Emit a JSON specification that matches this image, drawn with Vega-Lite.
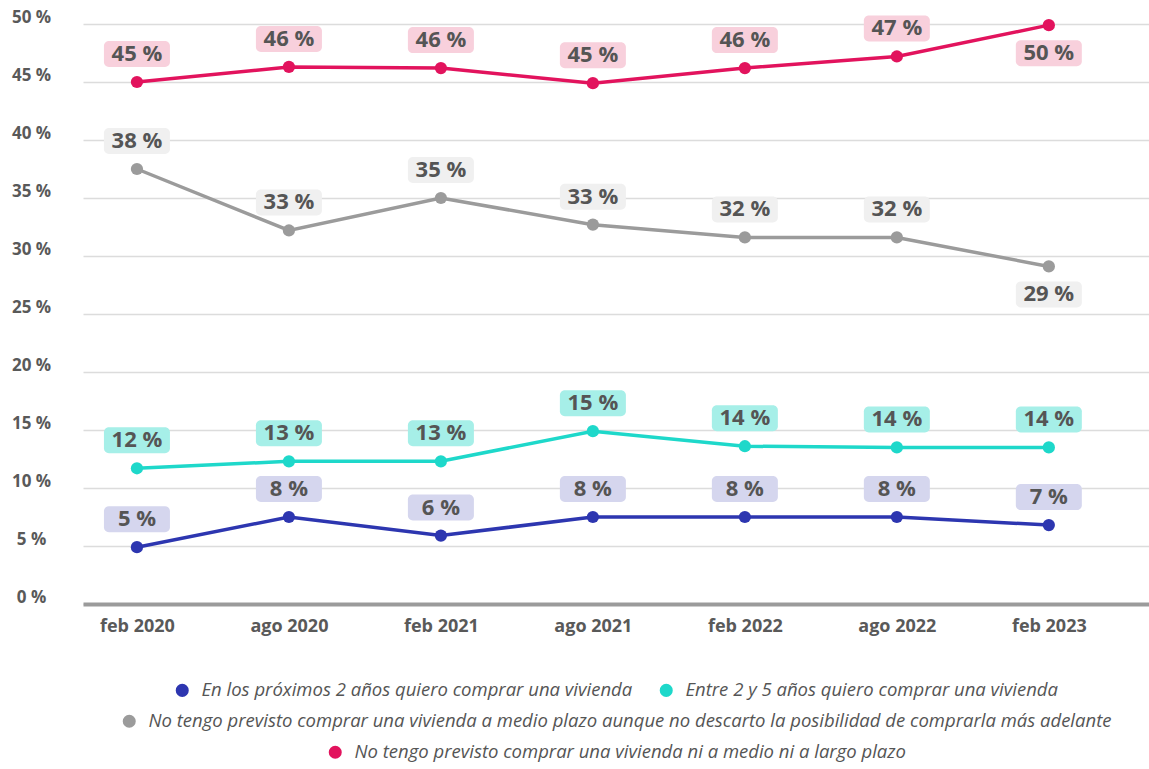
{
  "$schema": "https://vega.github.io/schema/vega-lite/v6.json",
  "width": 1066,
  "height": 580,
  "padding": {"left": 11, "top": 8, "right": 0, "bottom": 0},
  "background": "white",
  "config": {
    "view": {"stroke": null},
    "font": "Open Sans",
    "legend": {
      "layout": {"bottom": {"anchor": "middle", "direction": "vertical", "center": true, "margin": 12}}
    }
  },
  "data": {
    "values": [
      {"fecha": "feb 2020", "serie": "En los próximos 2 años quiero comprar una vivienda", "valor": 4.9, "texto": "5 %"},
      {"fecha": "ago 2020", "serie": "En los próximos 2 años quiero comprar una vivienda", "valor": 7.5, "texto": "8 %"},
      {"fecha": "feb 2021", "serie": "En los próximos 2 años quiero comprar una vivienda", "valor": 5.9, "texto": "6 %"},
      {"fecha": "ago 2021", "serie": "En los próximos 2 años quiero comprar una vivienda", "valor": 7.5, "texto": "8 %"},
      {"fecha": "feb 2022", "serie": "En los próximos 2 años quiero comprar una vivienda", "valor": 7.5, "texto": "8 %"},
      {"fecha": "ago 2022", "serie": "En los próximos 2 años quiero comprar una vivienda", "valor": 7.5, "texto": "8 %"},
      {"fecha": "feb 2023", "serie": "En los próximos 2 años quiero comprar una vivienda", "valor": 6.8, "texto": "7 %"},
      {"fecha": "feb 2020", "serie": "Entre 2 y 5 años quiero comprar una vivienda", "valor": 11.7, "texto": "12 %"},
      {"fecha": "ago 2020", "serie": "Entre 2 y 5 años quiero comprar una vivienda", "valor": 12.3, "texto": "13 %"},
      {"fecha": "feb 2021", "serie": "Entre 2 y 5 años quiero comprar una vivienda", "valor": 12.3, "texto": "13 %"},
      {"fecha": "ago 2021", "serie": "Entre 2 y 5 años quiero comprar una vivienda", "valor": 14.9, "texto": "15 %"},
      {"fecha": "feb 2022", "serie": "Entre 2 y 5 años quiero comprar una vivienda", "valor": 13.6, "texto": "14 %"},
      {"fecha": "ago 2022", "serie": "Entre 2 y 5 años quiero comprar una vivienda", "valor": 13.5, "texto": "14 %"},
      {"fecha": "feb 2023", "serie": "Entre 2 y 5 años quiero comprar una vivienda", "valor": 13.5, "texto": "14 %"},
      {"fecha": "feb 2020", "serie": "No tengo previsto comprar una vivienda a medio plazo aunque no descarto la posibilidad de comprarla más adelante", "valor": 37.5, "texto": "38 %"},
      {"fecha": "ago 2020", "serie": "No tengo previsto comprar una vivienda a medio plazo aunque no descarto la posibilidad de comprarla más adelante", "valor": 32.2, "texto": "33 %"},
      {"fecha": "feb 2021", "serie": "No tengo previsto comprar una vivienda a medio plazo aunque no descarto la posibilidad de comprarla más adelante", "valor": 35.0, "texto": "35 %"},
      {"fecha": "ago 2021", "serie": "No tengo previsto comprar una vivienda a medio plazo aunque no descarto la posibilidad de comprarla más adelante", "valor": 32.7, "texto": "33 %"},
      {"fecha": "feb 2022", "serie": "No tengo previsto comprar una vivienda a medio plazo aunque no descarto la posibilidad de comprarla más adelante", "valor": 31.6, "texto": "32 %"},
      {"fecha": "ago 2022", "serie": "No tengo previsto comprar una vivienda a medio plazo aunque no descarto la posibilidad de comprarla más adelante", "valor": 31.6, "texto": "32 %"},
      {"fecha": "feb 2023", "serie": "No tengo previsto comprar una vivienda a medio plazo aunque no descarto la posibilidad de comprarla más adelante", "valor": 29.1, "texto": "29 %"},
      {"fecha": "feb 2020", "serie": "No tengo previsto comprar una vivienda ni a medio ni a largo plazo", "valor": 45.0, "texto": "45 %"},
      {"fecha": "ago 2020", "serie": "No tengo previsto comprar una vivienda ni a medio ni a largo plazo", "valor": 46.3, "texto": "46 %"},
      {"fecha": "feb 2021", "serie": "No tengo previsto comprar una vivienda ni a medio ni a largo plazo", "valor": 46.2, "texto": "46 %"},
      {"fecha": "ago 2021", "serie": "No tengo previsto comprar una vivienda ni a medio ni a largo plazo", "valor": 44.9, "texto": "45 %"},
      {"fecha": "feb 2022", "serie": "No tengo previsto comprar una vivienda ni a medio ni a largo plazo", "valor": 46.2, "texto": "46 %"},
      {"fecha": "ago 2022", "serie": "No tengo previsto comprar una vivienda ni a medio ni a largo plazo", "valor": 47.2, "texto": "47 %"},
      {"fecha": "feb 2023", "serie": "No tengo previsto comprar una vivienda ni a medio ni a largo plazo", "valor": 49.9, "texto": "50 %"}
    ]
  },
  "encoding": {
    "x": {
      "field": "fecha", "type": "ordinal",
      "scale": {"type": "point", "domain": ["feb 2020", "ago 2020", "feb 2021", "ago 2021", "feb 2022", "ago 2022", "feb 2023"], "padding": 0.507, "align": 0.35},
      "axis": {"title": null, "domain": true, "domainColor": "#9b9b9b", "domainWidth": 4, "ticks": false, "grid": false, "labelPadding": 13, "labelFontSize": 18, "labelFontWeight": "bold", "labelColor": "#595959", "labelFont": "Open Sans", "labelAngle": 0}
    },
    "y": {
      "field": "valor", "type": "quantitative",
      "scale": {"domain": [0, 50], "nice": false},
      "axis": {"title": null, "values": [0, 5, 10, 15, 20, 25, 30, 35, 40, 45, 50], "labelExpr": "datum.value + ' %'", "domain": false, "ticks": false, "grid": true, "gridColor": "#dcdcdc", "gridWidth": 1.5, "labelAlign": "center", "labelPadding": 52, "labelBaseline": "alphabetic", "labelOffset": -2, "labelFontSize": 17, "labelFontWeight": "bold", "labelColor": "#595959", "labelFont": "Open Sans"}
    }
  },
  "layer": [
    {
      "mark": {"type": "line", "strokeWidth": 3.5},
      "encoding": {
        "color": {"field": "serie", "type": "nominal", "legend": null,
          "scale": {"domain": ["En los próximos 2 años quiero comprar una vivienda", "Entre 2 y 5 años quiero comprar una vivienda", "No tengo previsto comprar una vivienda a medio plazo aunque no descarto la posibilidad de comprarla más adelante", "No tengo previsto comprar una vivienda ni a medio ni a largo plazo"],
            "range": ["#2d36b0", "#1ed8ca", "#9b9b9b", "#e2135d"]}}
      }
    },
    {
      "transform": [{"filter": "indexof(['En los próximos 2 años quiero comprar una vivienda', 'Entre 2 y 5 años quiero comprar una vivienda'], datum.serie) >= 0"}],
      "mark": {"type": "point", "filled": true, "opacity": 1, "size": 150},
      "encoding": {
        "color": {"field": "serie", "type": "nominal",
          "scale": {"domain": ["En los próximos 2 años quiero comprar una vivienda", "Entre 2 y 5 años quiero comprar una vivienda"], "range": ["#2d36b0", "#1ed8ca"]},
          "legend": {"title": null, "orient": "bottom", "direction": "horizontal", "symbolType": "circle", "symbolSize": 170, "symbolOpacity": 1, "labelFont": "Open Sans", "labelFontStyle": "italic", "labelFontSize": 18.5, "labelColor": "#555555", "labelOffset": 10, "columnPadding": 24, "labelLimit": 1200, "offset": 46}}
      }
    },
    {
      "transform": [{"filter": "datum.serie == 'No tengo previsto comprar una vivienda a medio plazo aunque no descarto la posibilidad de comprarla más adelante'"}],
      "mark": {"type": "point", "filled": true, "opacity": 1, "size": 150},
      "encoding": {
        "color": {"field": "serie", "type": "nominal",
          "scale": {"domain": ["No tengo previsto comprar una vivienda a medio plazo aunque no descarto la posibilidad de comprarla más adelante"], "range": ["#9b9b9b"]},
          "legend": {"title": null, "orient": "bottom", "direction": "horizontal", "symbolType": "circle", "symbolSize": 170, "symbolOpacity": 1, "labelFont": "Open Sans", "labelFontStyle": "italic", "labelFontSize": 18.5, "labelColor": "#555555", "labelOffset": 10, "labelLimit": 1200}}
      }
    },
    {
      "transform": [{"filter": "datum.serie == 'No tengo previsto comprar una vivienda ni a medio ni a largo plazo'"}],
      "mark": {"type": "point", "filled": true, "opacity": 1, "size": 150},
      "encoding": {
        "color": {"field": "serie", "type": "nominal",
          "scale": {"domain": ["No tengo previsto comprar una vivienda ni a medio ni a largo plazo"], "range": ["#e2135d"]},
          "legend": {"title": null, "orient": "bottom", "direction": "horizontal", "symbolType": "circle", "symbolSize": 170, "symbolOpacity": 1, "labelFont": "Open Sans", "labelFontStyle": "italic", "labelFontSize": 18.5, "labelColor": "#555555", "labelOffset": 10, "labelLimit": 1200}}
      }
    },
    {
      "transform": [{"filter": "!(datum.fecha == 'feb 2023' && (datum.valor > 20))"}],
      "mark": {"type": "point", "filled": true, "opacity": 1, "size": 4356, "yOffset": -28,
        "shape": "M-0.85,-0.394 H0.85 A0.15,0.15 0 0 1 1,-0.244 V0.244 A0.15,0.15 0 0 1 0.85,0.394 H-0.85 A0.15,0.15 0 0 1 -1,0.244 V-0.244 A0.15,0.15 0 0 1 -0.85,-0.394 Z"},
      "encoding": {
        "fill": {"field": "serie", "type": "nominal", "legend": null,
          "scale": {"domain": ["En los próximos 2 años quiero comprar una vivienda", "Entre 2 y 5 años quiero comprar una vivienda", "No tengo previsto comprar una vivienda a medio plazo aunque no descarto la posibilidad de comprarla más adelante", "No tengo previsto comprar una vivienda ni a medio ni a largo plazo"],
            "range": ["#d5d6ee", "#a6efe8", "#f0f0f0", "#f8d0dc"]}}
      }
    },
    {
      "transform": [{"filter": "datum.fecha == 'feb 2023' && (datum.valor > 20)"}],
      "mark": {"type": "point", "filled": true, "opacity": 1, "size": 4356, "yOffset": 28,
        "shape": "M-0.85,-0.394 H0.85 A0.15,0.15 0 0 1 1,-0.244 V0.244 A0.15,0.15 0 0 1 0.85,0.394 H-0.85 A0.15,0.15 0 0 1 -1,0.244 V-0.244 A0.15,0.15 0 0 1 -0.85,-0.394 Z"},
      "encoding": {
        "fill": {"field": "serie", "type": "nominal", "legend": null,
          "scale": {"domain": ["En los próximos 2 años quiero comprar una vivienda", "Entre 2 y 5 años quiero comprar una vivienda", "No tengo previsto comprar una vivienda a medio plazo aunque no descarto la posibilidad de comprarla más adelante", "No tengo previsto comprar una vivienda ni a medio ni a largo plazo"],
            "range": ["#d5d6ee", "#a6efe8", "#f0f0f0", "#f8d0dc"]}}
      }
    },
    {
      "transform": [{"filter": "!(datum.fecha == 'feb 2023' && (datum.valor > 20))"}],
      "mark": {"type": "text", "dy": -28, "font": "Open Sans", "fontSize": 22, "fontWeight": "bold", "color": "#555555", "baseline": "middle"},
      "encoding": {"text": {"field": "texto", "type": "nominal"}}
    },
    {
      "transform": [{"filter": "datum.fecha == 'feb 2023' && (datum.valor > 20)"}],
      "mark": {"type": "text", "dy": 28, "font": "Open Sans", "fontSize": 22, "fontWeight": "bold", "color": "#555555", "baseline": "middle"},
      "encoding": {"text": {"field": "texto", "type": "nominal"}}
    }
  ],
  "resolve": {"scale": {"color": "independent"}, "legend": {"color": "independent"}}
}
